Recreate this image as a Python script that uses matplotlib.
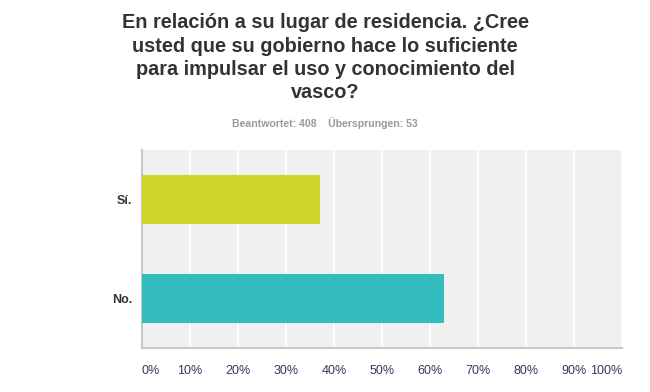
import matplotlib.pyplot as plt

# data
categories = ['Sí.', 'No.']
values = [37.01, 62.99]
colors = ['#D0D52A', '#33BDBF']
ticks = [0, 10, 20, 30, 40, 50, 60, 70, 80, 90, 100]
tick_labels = ['%d%%' % t for t in ticks]

plt.rcParams['font.family'] = ['Liberation Sans', 'DejaVu Sans']

fig = plt.figure(figsize=(6.5, 3.92), dpi=100)
ax = fig.add_axes([142 / 650, 1 - 348 / 392, 480 / 650, 198 / 392])

ax.set_facecolor('#F0F0F0')
ypos = list(range(len(categories)))
ax.barh(ypos, values, height=0.5, color=colors, zorder=3)
ax.set_xlim(0, 100)
ax.set_ylim(len(categories) - 0.5, -0.5)

ax.set_xticks(ticks)
ax.set_xticklabels(tick_labels, fontsize=9, color='#2E3B5B')
labs = ax.get_xticklabels()
labs[0].set_ha('left')
labs[-1].set_ha('right')
ax.tick_params(axis='x', length=0, pad=12)
ax.xaxis.grid(True, color='white', linewidth=1.2, zorder=1)

ax.set_yticks(ypos)
ax.set_yticklabels(categories, fontsize=9, fontweight='bold', color='#333333')
ax.tick_params(axis='y', length=0, pad=7)

for s in ['top', 'right']:
    ax.spines[s].set_visible(False)
for s in ['left', 'bottom']:
    ax.spines[s].set_color('#C8C8C8')
    ax.spines[s].set_linewidth(1.5)

fig.text(0.5, 1 - 13 / 392,
         'En relación a su lugar de residencia. ¿Cree\nusted que su gobierno hace lo suficiente\n'
         'para impulsar el uso y conocimiento del\nvasco?',
         ha='center', va='top', fontsize=14.3, fontweight='bold', color='#333333',
         linespacing=1.3)
fig.text(0.5, 1 - 123 / 392, 'Beantwortet: 408    Übersprungen: 53',
         ha='center', va='center', fontsize=7.6, fontweight='bold', color='#999999')

plt.savefig('out.png', dpi=100)
